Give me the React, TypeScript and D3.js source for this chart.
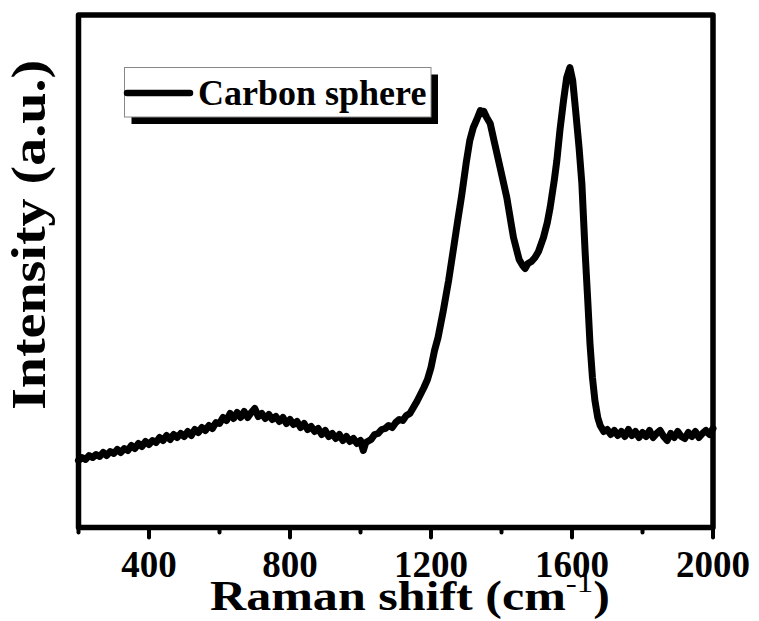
import React from "react";
import * as d3 from "d3";

const ramanShift: number[] = [
  200, 210, 220, 230, 240, 250, 260, 270, 280, 290, 300, 310, 320, 330, 340, 350, 360, 370, 380, 390,
  400, 410, 420, 430, 440, 450, 460, 470, 480, 490, 500, 510, 520, 530, 540, 550, 560, 570, 580, 590,
  600, 610, 620, 630, 640, 650, 660, 670, 680, 690, 700, 710, 720, 730, 740, 750, 760, 770, 780, 790,
  800, 810, 820, 830, 840, 850, 860, 870, 880, 890, 900, 910, 920, 930, 940, 950, 960, 970, 980, 990,
  1000, 1008, 1015, 1030, 1040, 1050, 1060, 1070, 1080, 1090, 1100, 1110, 1120, 1130, 1140, 1150,
  1160, 1170, 1180, 1190, 1200, 1210, 1220, 1235, 1250, 1263, 1275, 1287, 1300, 1310, 1320, 1330,
  1340, 1345, 1350, 1358, 1368, 1380, 1396, 1415, 1434, 1450, 1460, 1467, 1475, 1485, 1495, 1505,
  1519, 1530, 1538, 1550, 1557, 1566, 1576, 1585, 1594, 1602, 1610, 1620, 1628, 1637, 1645, 1651,
  1658, 1665, 1673, 1680, 1690, 1700, 1710, 1720, 1730, 1740, 1750, 1760, 1770, 1780, 1790, 1800,
  1810, 1820, 1830, 1840, 1850, 1860, 1870, 1880, 1890, 1900, 1910, 1920, 1930, 1940, 1950, 1960,
  1970, 1980, 1990, 2000,
];

const intensity: number[] = [
  67, 70, 68, 72, 70, 73, 71, 75, 72, 76, 74, 78, 75, 79, 77, 82, 79, 84, 81, 86,
  83, 87, 85, 90, 87, 92, 88, 93, 90, 94, 91, 96, 92, 98, 95, 100, 97, 102, 99, 105,
  104, 110, 107, 114, 109, 115, 110, 116, 110, 115, 119, 111, 114, 109, 113, 108, 111, 106, 110, 104,
  108, 103, 106, 100, 104, 98, 101, 96, 99, 93, 97, 91, 94, 89, 93, 87, 91, 86, 89, 84,
  87, 77, 85, 88, 93, 94, 98, 99, 102, 100, 105, 108, 107, 112, 114, 120,
  126, 133, 140, 148, 160, 177, 190, 217, 247, 277, 305, 332, 365, 387, 400, 408,
  417, 414, 416, 410, 404, 385, 360, 330, 290, 268, 262, 259, 264, 266, 270, 276,
  290, 305, 320, 348, 367, 398, 427, 450, 460, 447, 418, 380, 344, 277, 225, 184,
  150, 127, 110, 102, 96, 98, 93, 97, 92, 96, 91, 98, 92, 96, 90, 95,
  91, 97, 90, 94, 97, 91, 87, 94, 90, 96, 91, 89, 95, 91, 96, 90,
  94, 97, 93, 99,
];

const majorTicks: number[] = [400, 800, 1200, 1600, 2000];
const minorTicks: number[] = [200, 600, 1000, 1400, 1800];
const legendLabel = "Carbon sphere";

const W = 759;
const H = 621;
const left = 78.5;
const right = 713;
const top = 15;
const bottom = 527.5;
const FONT = "'Times New Roman', 'Liberation Serif', serif";

export default function App() {
  const x = d3.scaleLinear().domain([200, 2000]).range([left, right]);
  const y = d3.scaleLinear().domain([0, 512.5]).range([bottom, top]);
  const pts: [number, number][] = ramanShift.map((r, i) => [r, intensity[i]]);
  const line = d3
    .line<[number, number]>()
    .x((d) => x(d[0]))
    .y((d) => y(d[1]))
    .curve(d3.curveLinear);

  return (
    <svg
      width={W}
      height={H}
      style={{ position: "absolute", left: 0, top: 0, background: "#fff" }}
      fontFamily={FONT}
    >
      <rect x={0} y={0} width={W} height={H} fill="#fff" />
      {majorTicks.map((t) => (
        <line key={"M" + t} x1={x(t)} x2={x(t)} y1={bottom} y2={bottom + 10}
          stroke="#000" strokeWidth={4} strokeLinecap="round" />
      ))}
      {minorTicks.map((t) => (
        <line key={"m" + t} x1={x(t)} x2={x(t)} y1={bottom} y2={bottom + 5}
          stroke="#000" strokeWidth={4} strokeLinecap="round" />
      ))}
      <path d={line(pts) || ""} fill="none" stroke="#000" strokeWidth={7}
        strokeLinejoin="round" strokeLinecap="round" />
      <rect x={left} y={top} width={right - left} height={bottom - top}
        fill="none" stroke="#000" strokeWidth={5.5} strokeLinejoin="round" />
      {majorTicks.map((t) => (
        <text key={"l" + t} x={x(t)} y={577} textAnchor="middle" fontSize={37}
          fontWeight="bold" fill="#000">
          {t}
        </text>
      ))}
      <g transform="translate(210,610) scale(1.178,1)">
        <text x={0} y={0} fontSize={42.5} fontWeight="bold" fill="#000">
          <tspan>Raman shift (cm</tspan>
          <tspan fontSize={28} fontWeight="normal" dy={-18}>-1</tspan>
          <tspan fontSize={42.5} dy={18}>)</tspan>
        </text>
      </g>
      <g transform="translate(45,235) rotate(-90) scale(1.167,1)">
        <text x={0} y={0} textAnchor="middle" fontSize={48} fontWeight="bold" fill="#000">
          Intensity (a.u.)
        </text>
      </g>
      <rect x={131.5} y={74.5} width={306.5} height={49.5} fill="#000" />
      <rect x={124.5} y={67.5} width={306.5} height={49.5} fill="#fff" stroke="#888" strokeWidth={1} />
      <line x1={127} x2={190} y1={93} y2={93} stroke="#000" strokeWidth={6.5} strokeLinecap="round" />
      <text x={198} y={105} fontSize={36} fontWeight="bold" fill="#000">
        {legendLabel}
      </text>
    </svg>
  );
}
